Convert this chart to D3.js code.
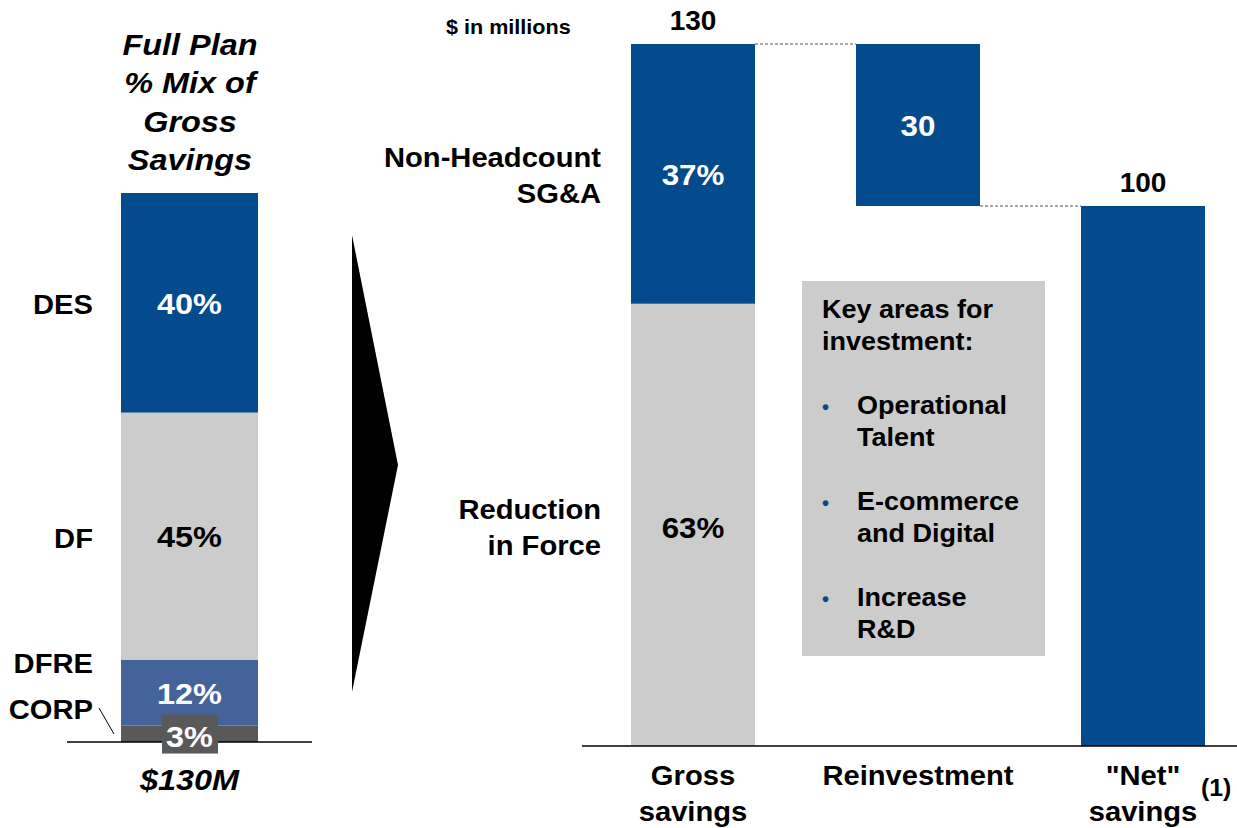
<!DOCTYPE html>
<html>
<head>
<meta charset="utf-8">
<script src="https://cdn.jsdelivr.net/npm/d3@7"></script>
<style>
  body { margin: 0; background: #fff; }
  text { font-family: "Liberation Sans", Arial, sans-serif; font-weight: bold; }
</style>
</head>
<body>
<div id="chart"></div>
<script>
// left: mix of gross savings (bottom to top)
const mixCategories = ["CORP", "DFRE", "DF", "DES"];
const mixValues = [3, 12, 45, 40];
const mixTotalLabel = "$130M";

// right: waterfall, $ in millions
const wfCategories = ["Gross savings", "Reinvestment", "\"Net\" savings"];
const grossTotal = 130;
const reinvestment = 30;
const netSavings = 100;
const grossSplitNames = ["Reduction in Force", "Non-Headcount SG&A"];
const grossSplitPct = [63, 37];

const investAreas = [["Operational", "Talent"], ["E-commerce", "and Digital"], ["Increase", "R&D"]];

const W = 1237, H = 828;
const blue = "#034B8C", gray = "#CCCCCC", midBlue = "#43639A", dark = "#595959";
const SX = 1.08; // text in the original is a bit wider than Liberation Sans

const svg = d3.select("#chart").append("svg")
  .attr("width", W).attr("height", H);

// widen text horizontally around its own x
function stretch(sel) {
  sel.attr("transform", function () {
    const x = +this.getAttribute("x");
    return "translate(" + x + ",0) scale(" + SX + ",1) translate(" + (-x) + ",0)";
  });
  return sel;
}

// ---------- left stacked bar ----------
const yMix = d3.scaleLinear().domain([0, 100]).range([742, 193]);
const mixX = 121, mixW = 137, mixCx = mixX + mixW / 2;
const mixColors = [dark, midBlue, gray, blue];
const mixText = ["#fff", "#fff", "#000", "#fff"];

let acc = 0;
const mixData = mixValues.map((v, i) => {
  const d = { name: mixCategories[i], v, y0: acc, y1: acc + v, i };
  acc += v;
  return d;
});

const title = ["Full Plan", "% Mix of", "Gross", "Savings"];
svg.append("g").selectAll("text").data(title).enter().append("text")
  .attr("x", 190).attr("y", (d, i) => 55 + i * 38.5)
  .attr("text-anchor", "middle").style("font-style", "italic")
  .style("font-size", "30px").text(d => d)
  .call(stretch);

svg.append("g").selectAll("rect").data(mixData).enter().append("rect")
  .attr("x", mixX).attr("width", mixW)
  .attr("y", d => yMix(d.y1))
  .attr("height", d => yMix(d.y0) - yMix(d.y1))
  .attr("fill", d => mixColors[d.i]);

svg.append("line").attr("x1", 67).attr("x2", 312)
  .attr("y1", yMix(0)).attr("y2", yMix(0))
  .attr("stroke", "#000").attr("stroke-width", 1.5);

// small box behind the 3% label
const corp = mixData[0];
svg.append("rect").attr("x", 162).attr("width", 56)
  .attr("y", yMix(corp.y1) - 11).attr("height", 39).attr("fill", dark);

svg.append("g").selectAll("text").data(mixData).enter().append("text")
  .attr("x", mixCx)
  .attr("y", d => d.i === 0 ? yMix(corp.y1) + 21 : (yMix(d.y0) + yMix(d.y1)) / 2 + 11)
  .attr("text-anchor", "middle").style("font-size", "30px")
  .attr("fill", d => mixText[d.i]).text(d => d.v + "%")
  .call(stretch);

// category labels
const labelY = { DES: 314, DF: 548, DFRE: 673, CORP: 719 };
svg.append("g").selectAll("text").data(mixData).enter().append("text")
  .attr("x", 93).attr("y", d => labelY[d.name])
  .attr("text-anchor", "end").style("font-size", "27px").text(d => d.name)
  .call(stretch);

svg.append("line").attr("x1", 99).attr("y1", 708).attr("x2", 114).attr("y2", 734)
  .attr("stroke", "#000").attr("stroke-width", 1);

svg.append("text").attr("x", mixCx).attr("y", 790).attr("text-anchor", "middle")
  .style("font-style", "italic").style("font-size", "30px").text(mixTotalLabel)
  .call(stretch);

// ---------- arrow ----------
svg.append("path").attr("d", "M352,235 L398,465 L352,692 Z").attr("fill", "#000");

// ---------- waterfall ----------
const yWf = d3.scaleLinear().domain([0, grossTotal]).range([746, 44]);
const xWf = d3.scalePoint().domain(wfCategories).range([693, 1143]);
const bw = 124;

svg.append("text").attr("x", 446).attr("y", 34).style("font-size", "20px").text("$ in millions")
  .call(stretch);

const rif = grossTotal * grossSplitPct[0] / 100;
const wfBars = [
  { c: wfCategories[0], y0: 0, y1: rif, fill: gray, label: grossSplitPct[0] + "%", lc: "#000" },
  { c: wfCategories[0], y0: rif, y1: grossTotal, fill: blue, label: grossSplitPct[1] + "%", lc: "#fff" },
  { c: wfCategories[1], y0: grossTotal - reinvestment, y1: grossTotal, fill: blue, label: String(reinvestment), lc: "#fff" },
  { c: wfCategories[2], y0: 0, y1: netSavings, fill: blue, label: "", lc: "#fff" }
];

// connectors
const conn = [
  { a: wfCategories[0], b: wfCategories[1], v: grossTotal },
  { a: wfCategories[1], b: wfCategories[2], v: grossTotal - reinvestment }
];
svg.append("g").selectAll("line").data(conn).enter().append("line")
  .attr("x1", d => xWf(d.a) + bw / 2).attr("x2", d => xWf(d.b) - bw / 2)
  .attr("y1", d => yWf(d.v)).attr("y2", d => yWf(d.v))
  .attr("stroke", "#555").attr("stroke-width", 1).attr("stroke-dasharray", "3,2");

svg.append("g").selectAll("rect").data(wfBars).enter().append("rect")
  .attr("x", d => xWf(d.c) - bw / 2).attr("width", bw)
  .attr("y", d => yWf(d.y1)).attr("height", d => yWf(d.y0) - yWf(d.y1))
  .attr("fill", d => d.fill);

svg.append("g").selectAll("text").data(wfBars.filter(d => d.label)).enter().append("text")
  .attr("x", d => xWf(d.c))
  .attr("y", d => d.y0 === 0 ? 538 : (yWf(d.y0) + yWf(d.y1)) / 2 + 11)
  .attr("text-anchor", "middle").style("font-size", "29px")
  .attr("fill", d => d.lc).text(d => d.label)
  .call(stretch);

// totals above bars
const totals = [{ c: wfCategories[0], v: grossTotal }, { c: wfCategories[2], v: netSavings }];
svg.append("g").selectAll("text").data(totals).enter().append("text")
  .attr("x", d => xWf(d.c)).attr("y", d => yWf(d.v) - 14)
  .attr("text-anchor", "middle").style("font-size", "28px").text(d => d.v);

svg.append("line").attr("x1", 582).attr("x2", W)
  .attr("y1", yWf(0)).attr("y2", yWf(0)).attr("stroke", "#000").attr("stroke-width", 1.5);

// segment names on the left
const segLabels = [
  { lines: ["Reduction", "in Force"], y: 519 },
  { lines: ["Non-Headcount", "SG&A"], y: 167 }
];
segLabels.forEach(s => {
  svg.append("text").attr("x", 601).attr("y", s.y).attr("text-anchor", "end")
    .style("font-size", "27px")
    .call(stretch)
    .selectAll("tspan").data(s.lines).enter().append("tspan")
    .attr("x", 601).attr("dy", (d, i) => i ? 36 : 0).text(d => d);
});

// x labels
const xLabelLines = [["Gross", "savings"], ["Reinvestment"], ["\"Net\"", "savings"]];
wfCategories.forEach((c, i) => {
  svg.append("text").attr("x", xWf(c)).attr("y", 785).attr("text-anchor", "middle")
    .style("font-size", "27px")
    .call(stretch)
    .selectAll("tspan").data(xLabelLines[i]).enter().append("tspan")
    .attr("x", xWf(c)).attr("dy", (d, j) => j ? 36 : 0).text(d => d);
});
svg.append("text").attr("x", 1201).attr("y", 796).style("font-size", "23px").text("(1)")
  .call(stretch);

// key areas box
svg.append("rect").attr("x", 802).attr("y", 281).attr("width", 243).attr("height", 375).attr("fill", gray);
svg.append("text").attr("x", 822).attr("y", 318).style("font-size", "25px")
  .call(stretch)
  .selectAll("tspan").data(["Key areas for", "investment:"]).enter().append("tspan")
  .attr("x", 822).attr("dy", (d, i) => i ? 32 : 0).text(d => d);

investAreas.forEach((lines, i) => {
  const y = 414 + i * 96;
  svg.append("text").attr("x", 822).attr("y", y).attr("fill", blue)
    .style("font-size", "20px").text("•");
  svg.append("text").attr("x", 857).attr("y", y).style("font-size", "25px")
    .call(stretch)
    .selectAll("tspan").data(lines).enter().append("tspan")
    .attr("x", 857).attr("dy", (d, j) => j ? 32 : 0).text(d => d);
});
</script>
</body>
</html>
